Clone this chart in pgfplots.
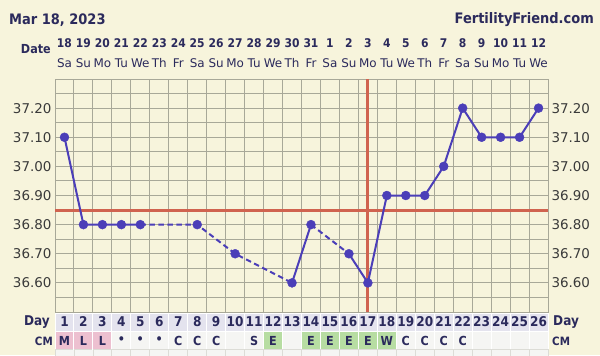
\documentclass[border=0pt]{standalone}
\usepackage{fontspec}
\setmainfont{DejaVu Sans}
\newfontfamily\cond{DejaVu Sans Condensed}
\usepackage{pgfplots}
\pgfplotsset{compat=1.18}
\definecolor{bg}{HTML}{F7F4DC}
\definecolor{gridc}{HTML}{A8A898}
\definecolor{ink}{HTML}{2B2A5C}
\definecolor{tickc}{HTML}{3A3A3A}
\definecolor{linec}{HTML}{4B3EB8}
\definecolor{cover}{HTML}{D0634F}
\definecolor{dayc}{HTML}{E4E3EE}
\definecolor{cmw}{HTML}{F5F5F3}
\definecolor{pinkc}{HTML}{EDC0D0}
\definecolor{greenc}{HTML}{B7DDA2}
\begin{document}
\begin{tikzpicture}[x=1bp,y=1bp]
\fill[bg] (0,0) rectangle (600,355);
\useasboundingbox (0,0) rectangle (600,355);
\pgfmathsetmacro\w{493/26}
% title texts
\node[anchor=west, inner sep=0, font=\cond\bfseries\fontsize{14.5}{15}\selectfont, text=ink] at (9,335) {Mar 18, 2023};
\node[anchor=east, inner sep=0, font=\cond\bfseries\fontsize{14.5}{15}\selectfont, text=ink] at (594,335) {FertilityFriend.com};
\node[anchor=east, inner sep=0, font=\cond\bfseries\fontsize{12.5}{12}\selectfont, text=ink] at (51,306) {Date};
\foreach \d [count=\i] in {18,19,20,21,22,23,24,25,26,27,28,29,30,31,1,2,3,4,5,6,7,8,9,10,11,12}
  \node[inner sep=0, font=\cond\bfseries\fontsize{12}{12}\selectfont, text=ink] at ({55+(\i-0.5)*\w},312) {\d};
\foreach \d [count=\i] in {Sa,Su,Mo,Tu,We,Th,Fr,Sa,Su,Mo,Tu,We,Th,Fr,Sa,Su,Mo,Tu,We,Th,Fr,Sa,Su,Mo,Tu,We}
  \node[inner sep=0, font=\fontsize{12}{12}\selectfont, text=ink] at ({55+(\i-0.5)*\w},292) {\d};
% table rows
\foreach \i/\c/\t in {1/pinkc/M,2/pinkc/L,3/pinkc/L,4/cmw/\textbullet,5/cmw/\textbullet,6/cmw/\textbullet,7/cmw/C,8/cmw/C,9/cmw/C,10/cmw/{},11/cmw/S,12/greenc/E,13/cmw/{},14/greenc/E,15/greenc/E,16/greenc/E,17/greenc/E,18/greenc/W,19/cmw/C,20/cmw/C,21/cmw/C,22/cmw/C,23/cmw/{},24/cmw/{},25/cmw/{},26/cmw/{}} {
  \filldraw[fill=dayc, draw=white, line width=1bp] ({55+(\i-1)*\w},24) rectangle ++(\w,18);
  \node[inner sep=0, font=\cond\bfseries\fontsize{13.5}{13}\selectfont, text=ink] at ({55+(\i-0.5)*\w},33) {\i};
  \filldraw[fill=\c, draw=white, line width=1bp] ({55+(\i-1)*\w},6) rectangle ++(\w,18);
  \node[inner sep=0, font=\cond\bfseries\fontsize{12.5}{12}\selectfont, text=ink] at ({55+(\i-0.5)*\w},14.5) {\t};
  \filldraw[fill=cmw, draw=gridc!40, line width=0.8bp] ({55+(\i-1)*\w},-2) rectangle ++(\w,8);
}
\node[anchor=east, inner sep=0, font=\cond\bfseries\fontsize{13.5}{13}\selectfont, text=ink] at (50,33) {Day};
\node[anchor=east, inner sep=0, font=\cond\bfseries\fontsize{11.5}{11}\selectfont, text=ink] at (53,14) {CM};
\node[anchor=west, inner sep=0, font=\cond\bfseries\fontsize{13.5}{13}\selectfont, text=ink] at (553,33) {Day};
\node[anchor=west, inner sep=0, font=\cond\bfseries\fontsize{11.5}{11}\selectfont, text=ink] at (552,14) {CM};
\begin{axis}[at={(55bp,43bp)}, anchor=south west, scale only axis,
  width=493bp, height=233bp,
  xmin=0.5, xmax=26.5, ymin=36.5, ymax=37.3,
  axis background/.style={fill=bg},
  xtick={0.5,1.5,...,26.5}, xticklabels={},
  ytick={36.6,36.7,36.8,36.9,37.0,37.1,37.2},
  minor ytick={36.55,36.65,36.75,36.85,36.95,37.05,37.15,37.25},
  grid=both, grid style={gridc, line width=1bp}, minor grid style={gridc, line width=1bp},
  major tick length=0, minor tick length=0,
  axis line style={gridc, line width=1bp},
  yticklabel style={font=\fontsize{13.5}{14}\selectfont, text=tickc},
  /pgf/number format/.cd, fixed, fixed zerofill, precision=2, assume math mode=true,
  /pgfplots/.cd, clip=false]
\addplot[cover, line width=3bp] coordinates {(0.5,36.85) (26.5,36.85)};
\addplot[cover, line width=3bp] coordinates {(17,36.5) (17,37.3)};
\addplot[linec, line width=2bp] coordinates {(1,37.10) (2,36.80) (3,36.80) (4,36.80) (5,36.80)};
\addplot[linec, line width=2bp, dash pattern=on 5.5bp off 3.5bp] coordinates {(5,36.80) (8,36.80) (10,36.70) (13,36.60)};
\addplot[linec, line width=2bp] coordinates {(13,36.60) (14,36.80)};
\addplot[linec, line width=2bp, dash pattern=on 5.5bp off 3.5bp] coordinates {(14,36.80) (16,36.70)};
\addplot[linec, line width=2bp] coordinates {(16,36.70) (17,36.60) (18,36.90) (19,36.90) (20,36.90) (21,37.00) (22,37.20) (23,37.10) (24,37.10) (25,37.10) (26,37.20)};
\addplot[only marks, mark=*, mark size=4.5bp, linec, mark options={fill=linec, draw=linec}] coordinates {
(1,37.10) (2,36.80) (3,36.80) (4,36.80) (5,36.80) (8,36.80) (10,36.70) (13,36.60) (14,36.80) (16,36.70) (17,36.60) (18,36.90) (19,36.90) (20,36.90) (21,37.00) (22,37.20) (23,37.10) (24,37.10) (25,37.10) (26,37.20)};
\end{axis}
\begin{axis}[at={(55bp,43bp)}, anchor=south west, scale only axis,
  width=493bp, height=233bp,
  xmin=0.5, xmax=26.5, ymin=36.5, ymax=37.3,
  hide x axis, axis y line*=right, axis line style={draw=none},
  ytick={36.6,36.7,36.8,36.9,37.0,37.1,37.2},
  major tick length=0,
  yticklabel style={font=\fontsize{13.5}{14}\selectfont, text=tickc},
  /pgf/number format/.cd, fixed, fixed zerofill, precision=2, assume math mode=true]
\addplot[draw=none] coordinates {(1,37.0)};
\end{axis}
\end{tikzpicture}
\end{document}
